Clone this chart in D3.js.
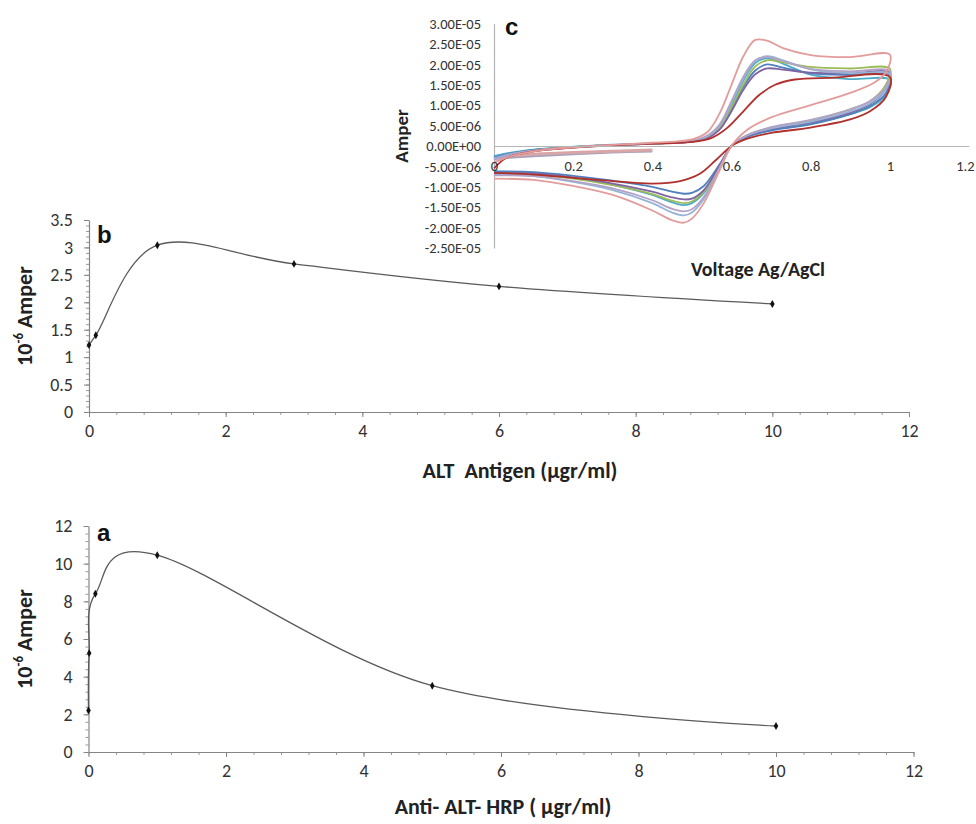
<!DOCTYPE html>
<html>
<head>
<meta charset="utf-8">
<script src="https://cdn.jsdelivr.net/npm/d3@7"></script>
<style>
  body { margin: 0; background: #fff; }
  svg text { font-family: Carlito, Lato, sans-serif; fill: #333; }
  .panel-letter { font-family: "Liberation Sans", Arial, sans-serif !important; font-weight: bold; fill: #111 !important; }
  .ttl { font-weight: bold; fill: #222 !important; }
</style>
</head>
<body>
<div id="vis"></div>
<script>
// data

// panel b : ALT antigen
const bConc = [0, 0.1, 1, 3, 6, 10]
const bAmp = [1.22, 1.4, 3.04, 2.7, 2.29, 1.97]
const bYTicks = [0, 0.5, 1, 1.5, 2, 2.5, 3, 3.5]
const bXTicks = [0, 2, 4, 6, 8, 10, 12]

// panel a : anti ALT HRP
const aConc = [0, 0.01, 0.1, 1, 5, 10]
const aAmp = [2.2, 5.25, 8.4, 10.45, 3.52, 1.38]
const aYTicks = [0, 2, 4, 6, 8, 10, 12]
const aXTicks = [0, 2, 4, 6, 8, 10, 12]

// panel c : cyclic voltammograms, [volt, current in 1e-6 A]
const cvTeal = [[0,-2.5],[0.05,-1.5],[0.12,-0.7],[0.25,0.1],[0.4,0.6],[0.5,1.2],[0.54,2.3],[0.57,4.8],[0.6,10],[0.63,16],[0.66,20.3],[0.69,21.5],[0.73,20.2],[0.8,17.5],[0.9,16.4],[1.0,16.2],
  [0.99,12.5],[0.95,9.5],[0.9,7.8],[0.8,5.5],[0.7,4],[0.64,2.4],[0.6,0],[0.57,-5],[0.53,-11.5],[0.5,-14],[0.48,-14.5],[0.45,-13.8],[0.4,-12],[0.3,-9.5],[0.2,-7.8],[0.1,-6.6],[0,-6.3]]
const cvBlue = [[0,-2.8],[0.05,-1.7],[0.12,-0.8],[0.25,0],[0.4,0.6],[0.5,1.1],[0.54,2.1],[0.57,4.3],[0.6,9],[0.63,14.5],[0.66,18.5],[0.69,20],[0.73,19.2],[0.8,17.8],[0.9,17.4],[1.0,17.4],
  [0.99,13],[0.95,9.8],[0.9,7.8],[0.8,5.3],[0.7,3.8],[0.64,2.2],[0.6,0],[0.57,-4.5],[0.53,-9.8],[0.5,-11.5],[0.48,-11.7],[0.45,-11.2],[0.4,-10],[0.3,-8.5],[0.2,-7.3],[0.1,-6.4],[0,-6.2]]
const cvGreen = [[0,-3.2],[0.05,-1.9],[0.12,-0.9],[0.25,0],[0.4,0.6],[0.5,1.2],[0.54,2.2],[0.57,4.5],[0.6,9.5],[0.63,15],[0.66,19.5],[0.69,21],[0.73,20.5],[0.8,19.4],[0.9,19],[1.0,19],
  [0.99,15],[0.95,11],[0.9,9],[0.8,6.3],[0.7,4.5],[0.64,2.6],[0.6,0],[0.57,-5],[0.53,-11.2],[0.5,-13.6],[0.48,-14],[0.45,-13.4],[0.4,-11.8],[0.3,-9.6],[0.2,-8],[0.1,-7],[0,-6.8]]
const cvPurple = [[0,-3],[0.05,-1.8],[0.12,-0.9],[0.25,0],[0.4,0.6],[0.5,1.1],[0.54,2],[0.57,4],[0.6,8.5],[0.63,13.8],[0.66,17.6],[0.69,19],[0.73,18.7],[0.8,18],[0.9,17.8],[1.0,17.9],
  [0.99,14],[0.95,10.3],[0.9,8.2],[0.8,5.8],[0.7,4.2],[0.64,2.5],[0.6,0],[0.57,-4.8],[0.53,-10.8],[0.5,-12.9],[0.48,-13.1],[0.45,-12.6],[0.4,-11.2],[0.3,-9.2],[0.2,-7.7],[0.1,-6.8],[0,-6.6]]
const cvLightBlue = [[0,-3],[0.05,-1.8],[0.12,-0.9],[0.25,0],[0.4,0.6],[0.5,1.2],[0.54,2.4],[0.57,5],[0.6,10.5],[0.63,16.5],[0.66,20.8],[0.69,22],[0.73,21],[0.8,18.8],[0.9,17.8],[1.0,17.6],
  [0.99,14],[0.95,10.5],[0.9,8.5],[0.8,6],[0.7,4.3],[0.64,2.6],[0.6,0],[0.57,-5.5],[0.53,-13],[0.5,-16.3],[0.48,-17],[0.45,-16.3],[0.4,-14],[0.3,-10.8],[0.2,-8.8],[0.1,-7.4],[0,-7]]
const cvLavender = [[0,-3.4],[0.05,-2],[0.12,-1],[0.25,0],[0.4,0.7],[0.5,1.3],[0.54,2.6],[0.57,5.3],[0.6,11],[0.63,17],[0.66,21],[0.69,21.8],[0.73,20.8],[0.8,18.9],[0.9,18.3],[1.0,18.3],
  [0.99,14.5],[0.95,11],[0.9,9],[0.8,6.4],[0.7,4.6],[0.64,2.7],[0.6,0],[0.57,-5.3],[0.53,-12.5],[0.5,-15.5],[0.48,-16],[0.45,-15.4],[0.4,-13.3],[0.3,-10.4],[0.2,-8.6],[0.1,-7.4],[0,-7.2]]
const cvDarkRed = [[0,-5.5],[0.03,-3],[0.1,-1.3],[0.2,-0.4],[0.35,0.4],[0.5,1],[0.55,2],[0.59,4.5],[0.63,8.5],[0.67,12.5],[0.71,15],[0.76,16.3],[0.85,16.7],[1.0,16.9],
  [0.99,12],[0.95,8.5],[0.9,6.5],[0.8,4.5],[0.7,3.2],[0.64,1.8],[0.6,0],[0.56,-3.5],[0.52,-6.8],[0.47,-8.6],[0.4,-9.2],[0.3,-8.6],[0.2,-7.8],[0.1,-7],[0,-6.6]]
const cvPink = [[0,-4],[0.05,-2.3],[0.12,-1],[0.25,0],[0.4,0.8],[0.5,1.6],[0.54,3.5],[0.57,8],[0.6,15],[0.63,22],[0.66,26],[0.69,25.8],[0.73,24],[0.8,22.3],[0.9,21.8],[1.0,22.4],
  [0.99,18],[0.96,15.5],[0.9,13],[0.8,10],[0.7,7],[0.64,4],[0.6,0],[0.57,-6],[0.53,-14],[0.5,-17.8],[0.48,-18.8],[0.45,-18.2],[0.4,-15.8],[0.3,-12],[0.2,-9.8],[0.1,-8.3],[0,-8]]
// the short start segments that end at 0.4 V
const cvTailA = [[0,-3],[0.1,-2.4],[0.2,-1.9],[0.3,-1.5],[0.4,-1.2]]
const cvTailB = [[0,-2.6],[0.1,-2],[0.2,-1.6],[0.3,-1.3],[0.4,-1.0]]

const cvSeries = [cvTeal, cvBlue, cvGreen, cvPurple, cvLightBlue, cvLavender, cvDarkRed, cvPink]
const cvColors = ['#4BACC6', '#4F81BD', '#9BBB59', '#8064A2', '#95B3D7', '#B3A2C7', '#B0302C', '#E39C9C']
const cvTails = [cvTailA, cvTailB]
const cvTailColors = ['#A8A2BC', '#D9A6A8']

const cYTicks = [30, 25, 20, 15, 10, 5, 0, -5, -10, -15, -20, -25]
const cXTicks = [0, 0.2, 0.4, 0.6, 0.8, 1, 1.2]


const W = 976, H = 824

const svg = d3.select('#vis').append('svg')
    .attr('width', W)
    .attr('height', H)

// Excel style "3.00E-05"
function sci(v){
    if (v === 0) return '0.00E+00'
    let val = v * 1e-6
    let e = Math.floor(Math.log10(Math.abs(val)))
    let m = val / Math.pow(10, e)
    let sign = e < 0 ? '-' : '+'
    return m.toFixed(2) + 'E' + sign + String(Math.abs(e)).padStart(2, '0')
}

function styleAxis(g, color){
    g.select('.domain').attr('stroke', color).attr('stroke-width', 1.2)
    g.selectAll('.tick line').attr('stroke', color)
}

// ---- the two excel line charts (a and b)
function lineChart(cfg){
    let x = d3.scaleLinear([0, 12], cfg.xRange)
    let y = d3.scaleLinear(cfg.yDomain, cfg.yRange)

    let g = svg.append('g').attr('class', cfg.cls)

    // minor ticks first
    g.append('g')
        .attr('transform', `translate(${cfg.xRange[0]},0)`)
        .call(d3.axisLeft(y).tickValues(cfg.yMinor).tickSize(3).tickFormat(''))
        .call(a => a.select('.domain').remove())
        .call(a => a.selectAll('line').attr('stroke', '#9a9a9a'))
    g.append('g')
        .attr('transform', `translate(0,${cfg.yRange[0]})`)
        .call(d3.axisBottom(x).tickValues(d3.range(0, 12.01, 0.4)).tickSize(3).tickFormat(''))
        .call(a => a.select('.domain').remove())
        .call(a => a.selectAll('line').attr('stroke', '#9a9a9a'))

    let yAxis = g.append('g')
        .attr('transform', `translate(${cfg.xRange[0]},0)`)
        .call(d3.axisLeft(y).tickValues(cfg.yTicks).tickSize(5).tickSizeOuter(0).tickPadding(11).tickFormat(d3.format('')))
        .call(a => styleAxis(a, '#858585'))
    yAxis.selectAll('text').attr('font-size', 18).style('font-family', 'Carlito, Lato, sans-serif')

    let xAxis = g.append('g')
        .attr('transform', `translate(0,${cfg.yRange[0]})`)
        .call(d3.axisBottom(x).tickValues(cfg.xTicks).tickSize(5).tickSizeOuter(0).tickPadding(7))
        .call(a => styleAxis(a, '#858585'))
    xAxis.selectAll('text').attr('font-size', 18).style('font-family', 'Carlito, Lato, sans-serif')

    let pts = cfg.xs.map((d, i) => [d, cfg.ys[i]])
    let line = d3.line()
        .x(d => x(d[0]))
        .y(d => y(d[1]))
        .curve(d3.curveCardinal.tension(0))

    g.append('path')
        .datum(pts)
        .attr('d', line)
        .attr('fill', 'none')
        .attr('stroke', '#5a5a5a')
        .attr('stroke-width', 1.3)

    g.selectAll('.mark')
        .data(pts)
        .enter()
        .append('path')
            .attr('class', 'mark')
            .attr('d', d3.symbol().type(d3.symbolDiamond).size(18))
            .attr('transform', d => `translate(${x(d[0])},${y(d[1])})`)
            .attr('fill', '#111')

    // panel letter
    g.append('text')
        .attr('class', 'panel-letter')
        .attr('x', cfg.letterPos[0])
        .attr('y', cfg.letterPos[1])
        .attr('font-size', 24)
        .text(cfg.letter)

    // y title 10^-6 Amper
    let yt = g.append('text')
        .attr('class', 'ttl')
        .attr('transform', `translate(${cfg.yTitleX},${(cfg.yRange[0] + cfg.yRange[1]) / 2}) rotate(-90)`)
        .attr('text-anchor', 'middle')
        .attr('font-size', 22)
    yt.append('tspan').text('10')
    yt.append('tspan').attr('dy', -9).attr('font-size', 13).text('-6')
    yt.append('tspan').attr('dy', 9).text(' Amper')

    g.append('text')
        .attr('class', 'ttl')
        .attr('x', cfg.xTitle[0])
        .attr('y', cfg.xTitle[1])
        .attr('text-anchor', 'middle')
        .attr('font-size', 22)
        .style('white-space', 'pre')
        .text(cfg.xLabel)
}

lineChart({
    cls: 'panel-b',
    xs: bConc, ys: bAmp,
    xRange: [89, 909],
    yDomain: [0, 3.5], yRange: [412, 220],
    yTicks: bYTicks, xTicks: bXTicks,
    yMinor: d3.range(0, 3.501, 0.1),
    letter: 'b', letterPos: [97, 243],
    yTitleX: 32,
    xTitle: [520, 478], xLabel: 'ALT  Antigen (\u00b5gr/ml)'
})

lineChart({
    cls: 'panel-a',
    xs: aConc, ys: aAmp,
    xRange: [88.5, 913.5],
    yDomain: [0, 12], yRange: [752, 526],
    yTicks: aYTicks, xTicks: aXTicks,
    yMinor: d3.range(0, 12.01, 0.4),
    letter: 'a', letterPos: [97, 541],
    yTitleX: 32,
    xTitle: [503, 814], xLabel: 'Anti- ALT- HRP ( \u00b5gr/ml)'
})


// ---- panel c, the inset voltammogram
const cX = d3.scaleLinear([0, 1.2], [494, 969])
const cY = d3.scaleLinear([-25, 30], [248, 23.6])

let cg = svg.append('g').attr('class', 'panel-c')

let cyAxis = cg.append('g')
    .attr('transform', `translate(${cX(0)},0)`)
    .call(d3.axisLeft(cY).tickValues(cYTicks).tickSize(0).tickPadding(13).tickFormat(sci))
    .call(a => styleAxis(a, '#b5b5b5'))
cyAxis.selectAll('text').attr('font-size', 14.5).style('font-family', 'Carlito, Lato, sans-serif')

let cvLine = d3.line()
    .x(d => cX(d[0]))
    .y(d => cY(d[1]))
    .curve(d3.curveCatmullRom.alpha(0.5))

cg.selectAll('.tail')
    .data(cvTails)
    .enter()
    .append('path')
        .attr('class', 'tail')
        .attr('d', cvLine)
        .attr('fill', 'none')
        .attr('stroke', (d, i) => cvTailColors[i])
        .attr('stroke-width', 3)

cg.selectAll('.cv')
    .data(cvSeries)
    .enter()
    .append('path')
        .attr('class', 'cv')
        .attr('d', cvLine)
        .attr('fill', 'none')
        .attr('stroke', (d, i) => cvColors[i])
        .attr('stroke-width', 1.8)

let cxAxis = cg.append('g')
    .attr('transform', `translate(0,${cY(0)})`)
    .call(d3.axisBottom(cX).tickValues(cXTicks).tickSize(0).tickPadding(15).tickFormat(d => d3.format('')(d)))
    .call(a => styleAxis(a, '#b5b5b5'))
cxAxis.selectAll('text').attr('font-size', 14.5).style('font-family', 'Carlito, Lato, sans-serif')
// last label sits against the right edge, keep it inside
cxAxis.selectAll('.tick').filter(d => d === 1.2).select('text')
    .attr('text-anchor', 'end')
    .attr('dx', 5)

cg.append('text')
    .attr('class', 'panel-letter')
    .attr('x', 505)
    .attr('y', 35)
    .attr('font-size', 24)
    .text('c')

cg.append('text')
    .attr('class', 'ttl')
    .attr('transform', `translate(408,136) rotate(-90)`)
    .attr('text-anchor', 'middle')
    .attr('font-size', 19)
    .text('Amper')

cg.append('text')
    .attr('class', 'ttl')
    .attr('x', 758)
    .attr('y', 276)
    .attr('text-anchor', 'middle')
    .attr('font-size', 20)
    .text('Voltage Ag/AgCl')
</script>
</body>
</html>
